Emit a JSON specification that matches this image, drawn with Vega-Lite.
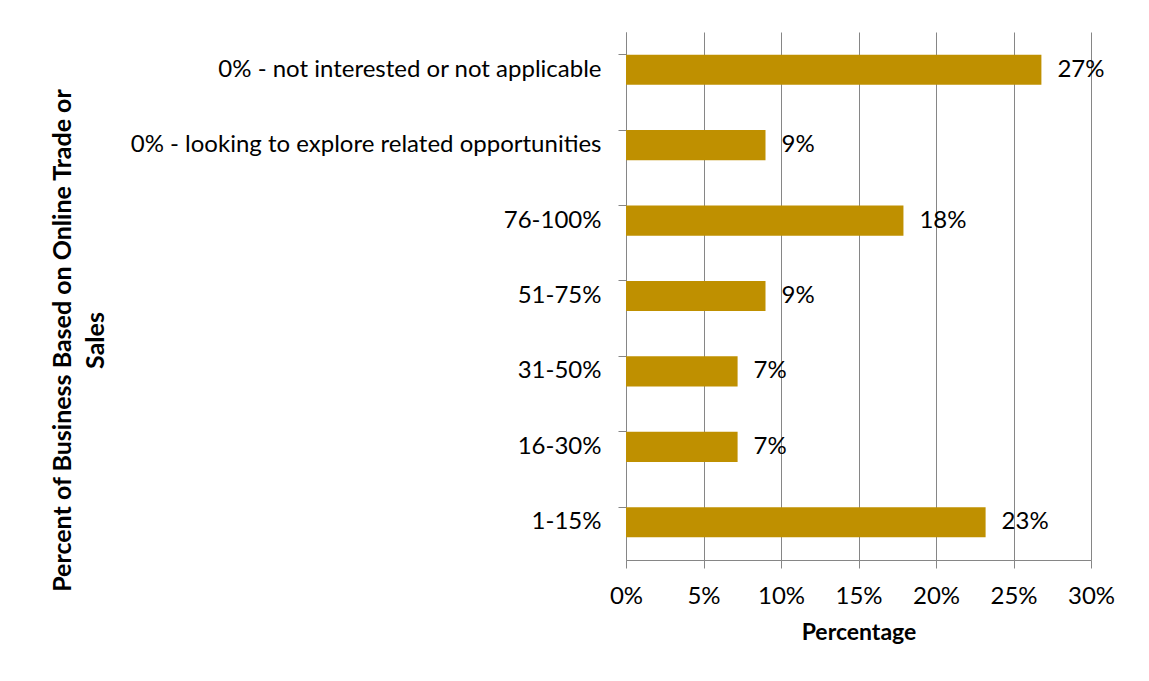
{
  "$schema": "https://vega.github.io/schema/vega-lite/v6.json",
  "autosize": {"type": "none"},
  "padding": {"left": 626, "top": 32, "right": 58, "bottom": 121},
  "width": 465,
  "height": 528,
  "background": "white",
  "config": {
    "font": "Lato",
    "view": {"stroke": null},
    "axis": {"labelFont": "Lato", "titleFont": "Lato", "labelColor": "black", "titleColor": "black"}
  },
  "data": {
    "values": [
      {"category": "0% - not interested or not applicable", "value": 0.268},
      {"category": "0% - looking to explore related opportunities", "value": 0.09},
      {"category": "76-100%", "value": 0.179},
      {"category": "51-75%", "value": 0.09},
      {"category": "31-50%", "value": 0.072},
      {"category": "16-30%", "value": 0.072},
      {"category": "1-15%", "value": 0.232}
    ]
  },
  "encoding": {
    "y": {
      "field": "category",
      "type": "nominal",
      "sort": null,
      "scale": {"paddingInner": 0.6, "paddingOuter": 0.3},
      "axis": {
        "title": ["Percent of Business Based on Online Trade or", "Sales"],
        "titleFontSize": 25,
        "titleFontWeight": "bold",
        "titleLineHeight": 33,
        "titleAnchor": "middle",
        "titleBaseline": "middle",
        "titleX": -564,
        "titleY": 308,
        "labelFontSize": 24,
        "labelPadding": 17,
        "labelLimit": 600,
        "tickSize": 8,
        "tickColor": "#868686",
        "domainColor": "#868686",
        "bandPosition": 0,
        "grid": false
      }
    },
    "x": {
      "field": "value",
      "type": "quantitative",
      "scale": {"domain": [0, 0.3], "nice": false},
      "axis": {
        "title": "Percentage",
        "titleFontSize": 23,
        "titleFontWeight": "bold",
        "titlePadding": 13,
        "format": ".0%",
        "values": [0, 0.05, 0.1, 0.15, 0.2, 0.25, 0.3],
        "labelFontSize": 24,
        "labelPadding": 16,
        "labelFlush": false,
        "tickSize": 8,
        "tickColor": "#868686",
        "domainColor": "#868686",
        "grid": true,
        "gridColor": "#868686",
        "gridWidth": 1
      }
    }
  },
  "layer": [
    {"mark": {"type": "bar", "color": "#BF9000"}},
    {
      "mark": {"type": "text", "align": "left", "baseline": "middle", "dx": 16, "fontSize": 24, "color": "black", "font": "Lato"},
      "encoding": {"text": {"field": "value", "type": "quantitative", "format": ".0%"}}
    }
  ]
}
